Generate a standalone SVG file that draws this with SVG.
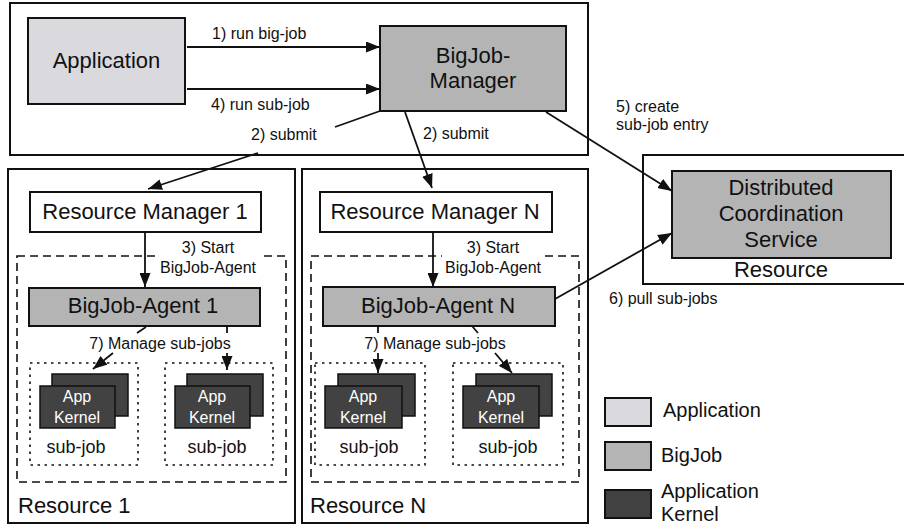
<svg xmlns="http://www.w3.org/2000/svg" width="904" height="527" viewBox="0 0 904 527">
  <style>
    text { font-family: "Liberation Sans", Arial, Helvetica, sans-serif; fill: #111; }
    .box { stroke: #111; stroke-width: 2; }
    .frame { fill: #fff; stroke: #111; stroke-width: 2; }
    .app { fill: #d9d9de; }
    .bj { fill: #b4b4b4; }
    .ker { fill: #424242; stroke: #111; stroke-width: 1.5; }
    .white { fill: #fff; }
    .dash { fill: none; stroke: #111; stroke-width: 1.6; stroke-dasharray: 8 5; }
    .dot { fill: none; stroke: #111; stroke-width: 1.6; stroke-dasharray: 2.5 4.5; }
    .big { font-size: 22px; }
    .lbl { font-size: 16px; }
    .kt { font-size: 16px; fill: #fff; }
    .sj { font-size: 18px; }
    .leg { font-size: 20px; }
    .conn path { fill: none; stroke: #111; stroke-width: 1.8; }
  </style>
  <defs>
    <marker id="arrow" markerUnits="userSpaceOnUse" markerWidth="14" markerHeight="11" refX="14" refY="5.5" orient="auto">
      <path d="M0,0 L14,5.5 L0,11 z" fill="#111"/>
    </marker>
  </defs>

  <rect width="904" height="527" fill="#fff"/>

  <!-- Container frames -->
  <g id="top-frame"><rect class="frame" x="10" y="3" width="578" height="152"/></g>
  <g id="resource-1">
    <rect class="frame" x="8" y="169" width="287" height="354"/>
    <text class="big" x="18" y="513">Resource 1</text>
  </g>
  <g id="resource-n">
    <rect class="frame" x="302" y="169" width="286" height="354"/>
    <text class="big" x="310" y="513">Resource N</text>
  </g>
  <g id="resource-dcs">
    <rect class="frame" x="643" y="155" width="270" height="129"/>
    <text class="big" x="781" y="277" text-anchor="middle">Resource</text>
  </g>

  <!-- Dashed agent areas -->
  <rect class="dash" x="17" y="256" width="269" height="226"/>
  <rect class="dash" x="311" y="256" width="268" height="226"/>

  <!-- Nodes -->
  <g id="application">
    <rect class="box app" x="28" y="18" width="157" height="86"/>
    <text class="big" x="106.5" y="68" text-anchor="middle">Application</text>
  </g>
  <g id="bigjob-manager">
    <rect class="box bj" x="380" y="26" width="186" height="85"/>
    <text class="big" x="473" y="63" text-anchor="middle">BigJob-</text>
    <text class="big" x="473" y="88" text-anchor="middle">Manager</text>
  </g>
  <g id="dcs">
    <rect class="box bj" x="672" y="171" width="219" height="87"/>
    <text class="big" x="781" y="195" text-anchor="middle">Distributed</text>
    <text class="big" x="781" y="221" text-anchor="middle">Coordination</text>
    <text class="big" x="781" y="247" text-anchor="middle">Service</text>
  </g>
  <g id="rm-1">
    <rect class="box white" x="30" y="192" width="231" height="40"/>
    <text class="big" x="145" y="219" text-anchor="middle">Resource Manager 1</text>
  </g>
  <g id="rm-n">
    <rect class="box white" x="320" y="192" width="232" height="40"/>
    <text class="big" x="435" y="219" text-anchor="middle">Resource Manager N</text>
  </g>
  <g id="agent-1">
    <rect class="box bj" x="29" y="288" width="231" height="38"/>
    <text class="big" x="143" y="313" text-anchor="middle">BigJob-Agent 1</text>
  </g>
  <g id="agent-n">
    <rect class="box bj" x="323" y="287" width="232" height="39"/>
    <text class="big" x="438" y="313" text-anchor="middle">BigJob-Agent N</text>
  </g>

  <!-- Sub-jobs -->
  <g id="subjob-1a">
    <rect class="dot" x="30" y="363" width="108" height="102"/>
    <rect class="ker" x="52" y="374" width="76" height="42"/>
    <rect class="ker" x="40" y="386" width="75" height="42"/>
    <text class="kt" x="77" y="402" text-anchor="middle">App</text>
    <text class="kt" x="77" y="423" text-anchor="middle">Kernel</text>
    <text class="sj" x="76" y="453" text-anchor="middle">sub-job</text>
  </g>
  <g id="subjob-1b">
    <rect class="dot" x="165" y="363" width="108" height="102"/>
    <rect class="ker" x="187" y="374" width="76" height="42"/>
    <rect class="ker" x="175" y="386" width="75" height="42"/>
    <text class="kt" x="212" y="402" text-anchor="middle">App</text>
    <text class="kt" x="212" y="423" text-anchor="middle">Kernel</text>
    <text class="sj" x="217" y="453" text-anchor="middle">sub-job</text>
  </g>
  <g id="subjob-na">
    <rect class="dot" x="315" y="363" width="110" height="102"/>
    <rect class="ker" x="338" y="374" width="77" height="42"/>
    <rect class="ker" x="325" y="386" width="77" height="42"/>
    <text class="kt" x="363" y="402" text-anchor="middle">App</text>
    <text class="kt" x="363" y="423" text-anchor="middle">Kernel</text>
    <text class="sj" x="369" y="453" text-anchor="middle">sub-job</text>
  </g>
  <g id="subjob-nb">
    <rect class="dot" x="453" y="363" width="110" height="102"/>
    <rect class="ker" x="476" y="374" width="76" height="42"/>
    <rect class="ker" x="463" y="386" width="76" height="42"/>
    <text class="kt" x="501" y="402" text-anchor="middle">App</text>
    <text class="kt" x="501" y="423" text-anchor="middle">Kernel</text>
    <text class="sj" x="508" y="453" text-anchor="middle">sub-job</text>
  </g>

  <!-- Connectors -->
  <g class="conn" id="connectors">
    <path d="M187,47 L380,47" marker-end="url(#arrow)"/>
    <path d="M187,89 L380,89" marker-end="url(#arrow)"/>
    <path d="M380,111 L335,127 M258,153 L148,189" marker-end="url(#arrow)"/>
    <path d="M405,112 L432,188" marker-end="url(#arrow)"/>
    <path d="M546,112 L672,191" marker-end="url(#arrow)"/>
    <path d="M555,299 L672,233" marker-end="url(#arrow)"/>
    <path d="M145,232 L145,287" marker-end="url(#arrow)"/>
    <path d="M433,232 L433,287" marker-end="url(#arrow)"/>
    <path d="M146,327 L137,333 M113,353 L93,369" marker-end="url(#arrow)"/>
    <path d="M227,327 L227,333 M227,353 L227,370" marker-end="url(#arrow)"/>
    <path d="M378,326 L378,333 M378,353 L378,373" marker-end="url(#arrow)"/>
    <path d="M472,326 L478,333 M495,353 L512,373" marker-end="url(#arrow)"/>
  </g>

  <!-- Connector labels -->
  <g id="labels">
    <text class="lbl" x="212" y="39">1) run big-job</text>
    <text class="lbl" x="211" y="110">4) run sub-job</text>
    <text class="lbl" x="251" y="140">2) submit</text>
    <text class="lbl" x="423" y="139">2) submit</text>
    <text class="lbl" x="616" y="112">5) create</text>
    <text class="lbl" x="616" y="130">sub-job entry</text>
    <text class="lbl" x="609" y="304">6) pull sub-jobs</text>
    <rect x="157" y="252" width="103" height="8" fill="#fff"/>
    <text class="lbl" x="208" y="253" text-anchor="middle">3) Start</text>
    <text class="lbl" x="208" y="273" text-anchor="middle">BigJob-Agent</text>
    <rect x="442" y="252" width="102" height="8" fill="#fff"/>
    <text class="lbl" x="493" y="253" text-anchor="middle">3) Start</text>
    <text class="lbl" x="493" y="273" text-anchor="middle">BigJob-Agent</text>
    <text class="lbl" x="160" y="349" text-anchor="middle">7) Manage sub-jobs</text>
    <text class="lbl" x="435" y="349" text-anchor="middle">7) Manage sub-jobs</text>
  </g>

  <!-- Legend -->
  <g id="legend">
    <rect class="box app" x="605" y="398" width="46" height="28"/>
    <text class="leg" x="663" y="417">Application</text>
    <rect class="box bj" x="605" y="442" width="46" height="28"/>
    <text class="leg" x="661" y="462">BigJob</text>
    <rect class="box" fill="#424242" x="605" y="490" width="46" height="28"/>
    <text class="leg" x="661" y="498">Application</text>
    <text class="leg" x="661" y="521">Kernel</text>
  </g>
</svg>
